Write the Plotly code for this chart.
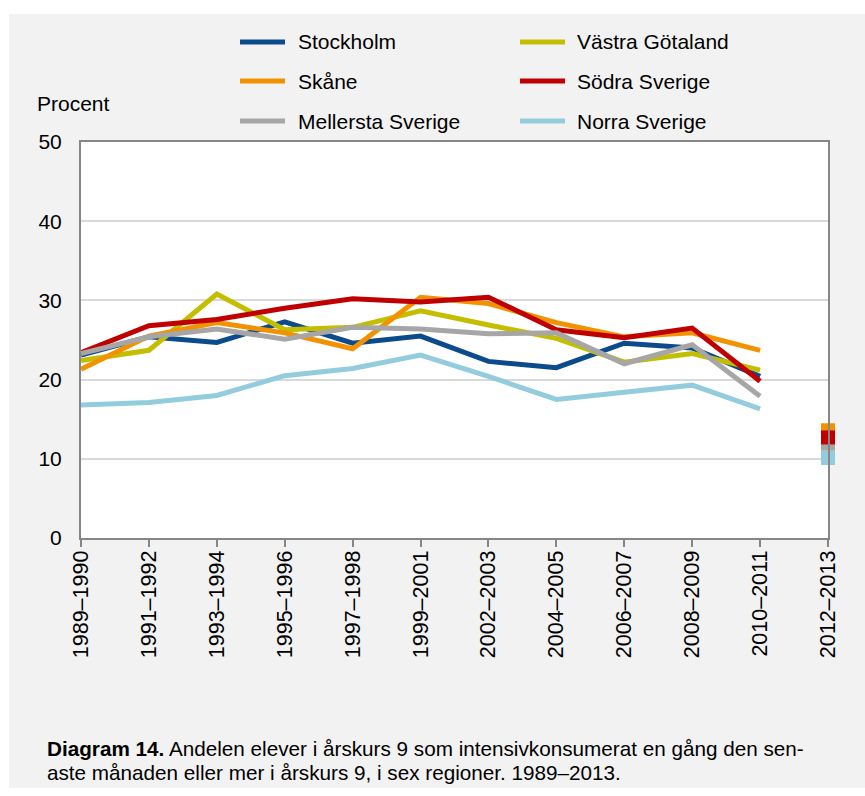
import plotly.graph_objects as go

categories = ["1989–1990", "1991–1992", "1993–1994", "1995–1996", "1997–1998",
              "1999–2001", "2002–2003", "2004–2005", "2006–2007", "2008–2009",
              "2010–2011", "2012–2013"]

stockholm = [23.1, 25.4, 24.7, 27.3, 24.6, 25.5, 22.3, 21.5, 24.6, 24.0, 20.4, None]
vastra_gotaland = [22.4, 23.7, 30.8, 26.3, 26.6, 28.7, 26.9, 25.2, 22.2, 23.3, 21.2, None]
skane = [21.3, 25.5, 27.2, 25.9, 23.9, 30.4, 29.6, 27.2, 25.4, 25.9, 23.7, 13.6]
sodra_sverige = [23.4, 26.8, 27.6, 29.0, 30.2, 29.8, 30.4, 26.3, 25.3, 26.5, 19.8, 12.7]
mellersta_sverige = [23.3, 25.4, 26.4, 25.1, 26.6, 26.4, 25.8, 25.9, 22.0, 24.4, 17.9, 11.9]
norra_sverige = [16.8, 17.1, 18.0, 20.5, 21.4, 23.1, 20.4, 17.5, 18.4, 19.3, 16.3, 10.1]

series_names = ["Stockholm", "Västra Götaland", "Skåne", "Södra Sverige",
                "Mellersta Sverige", "Norra Sverige"]
series_values = [stockholm, vastra_gotaland, skane, sodra_sverige,
                 mellersta_sverige, norra_sverige]
colors = ["#0b4a8b", "#c3bf00", "#f39200", "#c00000", "#a6a6a6", "#93cddd"]

y_ticks = [0, 10, 20, 30, 40, 50]
caption_line1 = ("<b>Diagram 14.</b> Andelen elever i årskurs 9 som intensivkonsumerat "
                 "en gång den sen-")
caption_line2 = "aste månaden eller mer i årskurs 9, i sex regioner. 1989–2013."

W, H = 865, 796
L, R, T, B = 81, 37, 142, 258
PW, PH = W - L - R, H - T - B
FONT = 21


def px(xp):
    return (xp - L) / PW


def py(yp):
    return (H - B - yp) / PH


fig = go.Figure()

# lines (first 11 periods)
for name, vals, col in zip(series_names, series_values, colors):
    fig.add_trace(go.Scatter(
        x=categories[:-1], y=vals[:-1], mode="lines", name=name,
        line=dict(color=col, width=5), showlegend=False, hoverinfo="x+y+name"))

# 2012–2013 squares
marker_order = [5, 4, 2, 3]
for i in marker_order:
    v = series_values[i][-1]
    if v is None:
        continue
    fig.add_trace(go.Scatter(
        x=[categories[-1]], y=[v], mode="markers", name=series_names[i],
        marker=dict(symbol="square", size=14, color=colors[i],
                    line=dict(width=0)),
        cliponaxis=False, showlegend=False))

shapes = []
annotations = []

# background: white border strips
shapes.append(dict(type="rect", xref="paper", yref="paper", layer="below",
                   x0=px(0), x1=px(W), y0=py(0), y1=py(14),
                   fillcolor="white", line=dict(width=0)))
shapes.append(dict(type="rect", xref="paper", yref="paper", layer="below",
                   x0=px(0), x1=px(9), y0=py(0), y1=py(H),
                   fillcolor="white", line=dict(width=0)))
shapes.append(dict(type="rect", xref="paper", yref="paper", layer="below",
                   x0=px(0), x1=px(W), y0=py(788), y1=py(H),
                   fillcolor="white", line=dict(width=0)))

# manual legend (two columns, row-major)
leg_rows = [42, 81, 121]
leg_cols = [(240, 285, 296), (520, 565, 575)]
for k, (name, col) in enumerate(zip(series_names, colors)):
    r, c = divmod(k, 2)
    x0, x1, xt = leg_cols[c]
    yy = leg_rows[r]
    shapes.append(dict(type="line", xref="paper", yref="paper",
                       x0=px(x0), x1=px(x1), y0=py(yy), y1=py(yy),
                       line=dict(color=col, width=5)))
    annotations.append(dict(xref="paper", yref="paper", x=px(xt), y=py(yy),
                            text=name, showarrow=False, xanchor="left",
                            yanchor="middle",
                            font=dict(size=FONT, color="black")))

annotations.append(dict(xref="paper", yref="paper", x=px(35), y=py(103),
                        text="Procent", showarrow=False, xanchor="left",
                        yanchor="middle", font=dict(size=FONT, color="black")))

for txt, yy in ((caption_line1, 748), (caption_line2, 772)):
    annotations.append(dict(xref="paper", yref="paper", x=px(45), y=py(yy),
                            text=txt, showarrow=False, xanchor="left",
                            yanchor="middle", align="left",
                            font=dict(size=20.7, color="black")))

fig.update_layout(
    width=W, height=H,
    margin=dict(l=L, r=R, t=T, b=B, pad=0),
    paper_bgcolor="#f2f2f2",
    plot_bgcolor="white",
    font=dict(family="Liberation Sans, Arial, sans-serif", size=FONT, color="black"),
    showlegend=False,
    shapes=shapes,
    annotations=annotations,
    xaxis=dict(
        type="category", categoryorder="array", categoryarray=categories,
        range=[0, len(categories) - 1],
        tickangle=-90, ticks="outside", ticklen=7, tickwidth=2,
        tickcolor="#868686", showgrid=False,
        showline=True, linecolor="#868686", linewidth=2, mirror=True,
        tickfont=dict(size=21.5), zeroline=False, ticklabelstandoff=-5,
    ),
    yaxis=dict(
        range=[0, 50], tickvals=y_ticks, ticks="",
        showgrid=True, gridcolor="#d9d9d9", gridwidth=2,
        showline=True, linecolor="#868686", linewidth=2, mirror=True,
        zeroline=False, tickfont=dict(size=FONT), ticklabelstandoff=13,
    ),
)

fig.write_html("out.html",
               config={"displayModeBar": False},
               post_script="document.body.style.margin='0';document.body.style.padding='0';")
